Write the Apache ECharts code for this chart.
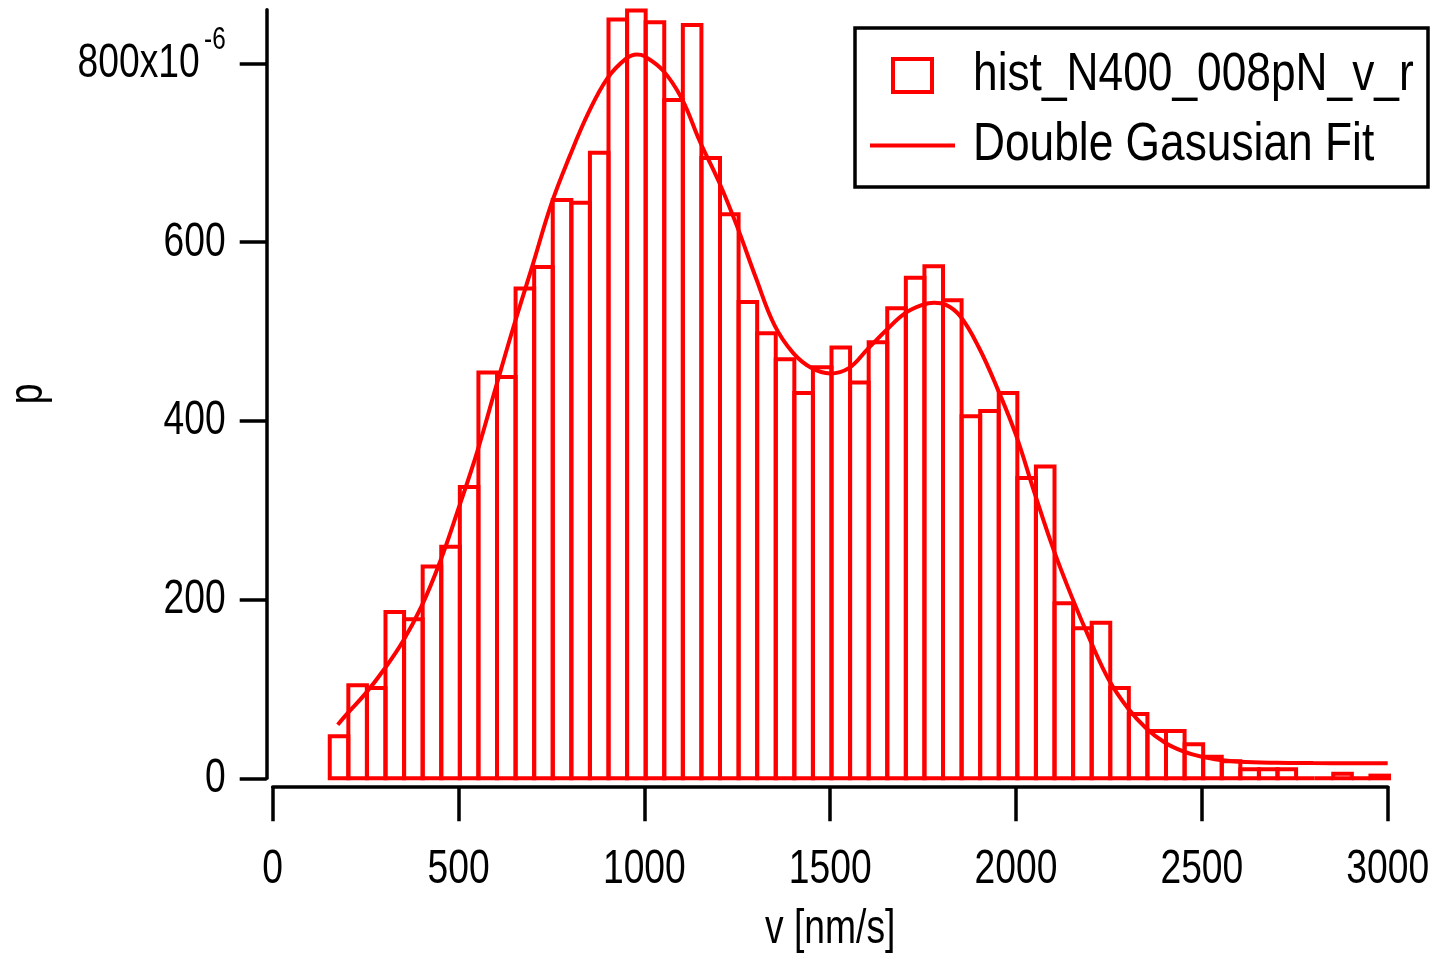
<!DOCTYPE html>
<html>
<head>
<meta charset="utf-8">
<script src="https://cdn.jsdelivr.net/npm/echarts@6/dist/echarts.min.js"></script>
<style>
  html, body { margin: 0; padding: 0; background: #fff; }
  #chart { width: 1435px; height: 960px; }
</style>
</head>
<body>
<div id="chart"></div>
<script>
// Histogram of velocities: bins of 50 nm/s starting at 153.5 nm/s, values in units of 1e-6
const binStart = 153.5;
const binWidth = 50;
const histValues = [
  47, 104, 101, 186, 178, 237, 259, 326, 454, 449,
  548, 572, 647, 644, 700, 849, 859, 846, 759, 843,
  694, 631, 533, 498, 469, 431, 460, 482, 443, 488,
  526, 560, 573, 535, 405, 411, 431, 336, 349, 196,
  168, 174, 101, 72, 53, 53, 38, 24, 19, 10,
  10, 10, 0, 0, 5, 0, 3
];

// Fitted double Gaussian curve, sampled positions (nm/s) and values (1e-6)
const fitX = [
  175, 200, 250, 300, 350, 400, 450, 500, 550, 600,
  650, 700, 750, 800, 850, 900, 950, 980, 1000, 1050,
  1100, 1150, 1200, 1250, 1300, 1350, 1400, 1450, 1500, 1550,
  1600, 1650, 1700, 1750, 1780, 1810, 1850, 1900, 1950, 2000,
  2050, 2100, 2150, 2200, 2250, 2300, 2350, 2400, 2450, 2500,
  2550, 2600, 2700, 2800, 2900, 3000
];
const fitY = [
  60, 72, 95, 122, 153, 192, 242, 302, 365, 437,
  508, 575, 643, 697, 745, 783, 805, 810, 808, 792,
  761, 712, 668, 617, 560, 507, 476, 459, 453, 459,
  480, 501, 520, 530, 532, 530, 517, 482, 436, 384,
  319, 257, 203, 154, 110, 79, 56, 40, 30, 24,
  20.5, 18.6, 17.4, 17, 16.9, 16.8
];

const xTicks = [0, 500, 1000, 1500, 2000, 2500, 3000];
const yTicks = [0, 200, 400, 600, 800];

const histName = 'hist_N400_008pN_v_r';
const fitName = 'Double Gasusian Fit';
const xName = 'v [nm/s]';
const yName = 'p';

const FONT = "'Liberation Sans', Arial, Helvetica, sans-serif";
const RED = '#ff0000';
// horizontal squeeze giving the narrow Helvetica look
const NARROW = 0.76;
const LEGEND_NARROW = 0.82;

const histData = histValues.map((v, i) => [binStart + i * binWidth, binStart + (i + 1) * binWidth, v]);
const fitData = fitX.map((x, i) => [x, fitY[i]]);

const chart = echarts.init(document.getElementById('chart'), null, { renderer: 'canvas' });

chart.setOption({
  animation: false,
  backgroundColor: '#ffffff',
  grid: { left: 272.7, right: 47.3, top: 9.7, bottom: 181.7, outerBoundsMode: 'none', containLabel: false },
  xAxis: {
    type: 'value',
    min: 0, max: 3000, interval: 500,
    offset: 8,
    axisLine: { show: true, onZero: false, lineStyle: { color: '#000', width: 3.5 } },
    axisTick: { show: true, inside: false, length: 35, lineStyle: { color: '#000', width: 3.5 }, customValues: xTicks },
    axisLabel: { show: false },
    splitLine: { show: false }
  },
  yAxis: {
    type: 'value',
    min: 0, max: 860, interval: 200,
    offset: 6,
    axisLine: { show: true, onZero: false, lineStyle: { color: '#000', width: 3.5 } },
    axisTick: { show: true, inside: false, length: 27, lineStyle: { color: '#000', width: 3.5 }, customValues: yTicks },
    axisLabel: { show: false },
    splitLine: { show: false }
  },
  series: [
    {
      name: histName,
      type: 'custom',
      data: histData,
      encode: { x: [0, 1], y: 2 },
      itemStyle: { color: '#fff', borderColor: RED, borderWidth: 4 },
      renderItem: function (params, api) {
        const topLeft = api.coord([api.value(0), api.value(2)]);
        const bottomRight = api.coord([api.value(1), 0]);
        return {
          type: 'rect',
          shape: {
            x: topLeft[0],
            y: topLeft[1],
            width: bottomRight[0] - topLeft[0],
            height: bottomRight[1] - topLeft[1]
          },
          style: { fill: 'none', stroke: RED, lineWidth: 4 }
        };
      }
    },
    {
      name: fitName,
      type: 'line',
      data: fitData,
      smooth: 0.4,
      symbol: 'none',
      showSymbol: false,
      lineStyle: { color: RED, width: 4 },
      z: 5
    }
  ]
});

// Axis text, drawn as squeezed text placed through the axis scales
function narrowText(text, x, y, opts) {
  return {
    type: 'text',
    x: x, y: y,
    rotation: opts.rotation || 0,
    scaleX: opts.scale || NARROW,
    silent: true,
    z: opts.z || 10,
    style: {
      text: text,
      fontFamily: FONT,
      fontSize: opts.size || 49,
      fill: '#000',
      align: opts.align || 'center',
      verticalAlign: 'middle'
    }
  };
}

const px = v => chart.convertToPixel({ xAxisIndex: 0 }, v);
const py = v => chart.convertToPixel({ yAxisIndex: 0 }, v);
const xOrigin = px(0);
const yOrigin = py(0);

const texts = [];
xTicks.forEach(v => texts.push(narrowText(String(v), px(v), yOrigin + 91, {})));
yTicks.forEach(v => {
  if (v === 800) {
    texts.push(narrowText('800x10', xOrigin - 73, py(v), { align: 'right' }));
    texts.push(narrowText('-6', xOrigin - 47, py(v) - 23.5, { align: 'right', size: 32 }));
  } else {
    texts.push(narrowText(String(v), xOrigin - 47, py(v), { align: 'right' }));
  }
});
texts.push(narrowText(xName, (px(0) + px(3000)) / 2, yOrigin + 151, {}));
texts.push(narrowText(yName, 28, (py(0) + py(860)) / 2, { rotation: Math.PI / 2 }));

// Legend box
const legend = [
  {
    type: 'rect', silent: true, z: 10,
    shape: { x: 855, y: 28, width: 573, height: 159 },
    style: { fill: '#fff', stroke: '#000', lineWidth: 3.5 }
  },
  {
    type: 'rect', silent: true, z: 11,
    shape: { x: 893, y: 59, width: 39, height: 33 },
    style: { fill: '#fff', stroke: RED, lineWidth: 4 }
  },
  {
    type: 'line', silent: true, z: 11,
    shape: { x1: 870, y1: 145.5, x2: 955, y2: 145.5 },
    style: { stroke: RED, lineWidth: 4 }
  },
  narrowText(histName, 973, 75, { align: 'left', size: 54, scale: LEGEND_NARROW, z: 11 }),
  narrowText(fitName, 973, 145, { align: 'left', size: 54, scale: LEGEND_NARROW, z: 11 })
];

chart.setOption({ graphic: { elements: texts.concat(legend) } });
</script>
</body>
</html>
